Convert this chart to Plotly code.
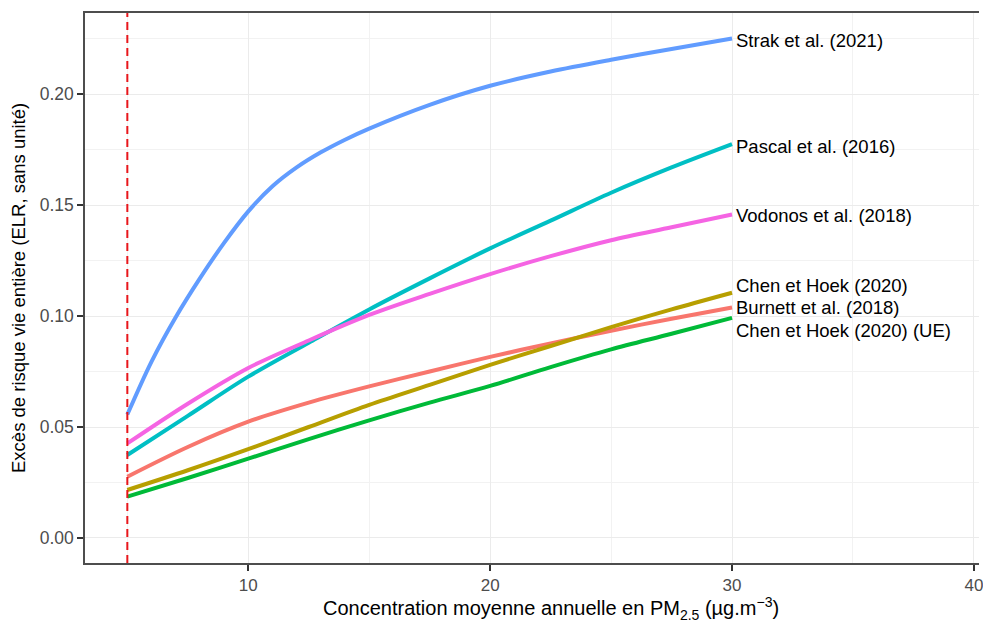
import plotly.graph_objects as go

# ---- data ----
studies = ["Burnett et al. (2018)", "Chen et Hoek (2020)", "Chen et Hoek (2020) (UE)",
           "Pascal et al. (2016)", "Strak et al. (2021)", "Vodonos et al. (2018)"]
colors = ["#F8766D", "#B79F00", "#00BA38", "#00BFC4", "#619CFF", "#F564E3"]

x_fine = [5, 6, 7, 8, 9, 10, 11, 12, 13, 14, 15, 17.5, 20, 22.5, 25, 27.5, 30]
x_coarse = [5, 7.5, 10, 12.5, 15, 17.5, 20, 22.5, 25, 27.5, 30]

strak = [0.0556, 0.0795, 0.0995, 0.1170, 0.1330, 0.1472, 0.1585, 0.1670, 0.1738, 0.1795,
         0.1845, 0.1952, 0.2038, 0.2102, 0.2155, 0.2204, 0.2251]
pascal = [0.0374, 0.055, 0.0727, 0.088, 0.103, 0.117, 0.1305, 0.143, 0.1556, 0.167, 0.1775]
vodonos = [0.0426, 0.0605, 0.0766, 0.089, 0.1005, 0.110, 0.1189, 0.127, 0.1342, 0.140, 0.1458]
burnett = [0.0276, 0.0410, 0.0524, 0.061, 0.0683, 0.075, 0.0816, 0.0877, 0.0934, 0.0988, 0.1039]
chen = [0.0216, 0.0305, 0.0400, 0.0500, 0.0600, 0.0690, 0.0780, 0.0865, 0.0950, 0.1030, 0.1105]
chen_ue = [0.0186, 0.0270, 0.0357, 0.0445, 0.0530, 0.0610, 0.0685, 0.0770, 0.0850, 0.0920, 0.0992]

series = {
    "Burnett et al. (2018)": (x_coarse, burnett),
    "Chen et Hoek (2020)": (x_coarse, chen),
    "Chen et Hoek (2020) (UE)": (x_coarse, chen_ue),
    "Pascal et al. (2016)": (x_coarse, pascal),
    "Strak et al. (2021)": (x_fine, strak),
    "Vodonos et al. (2018)": (x_coarse, vodonos),
}
# label heights (repelled) in data units
label_y = [0.104, 0.114, 0.0937, 0.1766, 0.2243, 0.1455]

who_guideline = 5
x_ticks = [10, 20, 30, 40]
y_ticks = [0.00, 0.05, 0.10, 0.15, 0.20]
x_range = [3.25, 40.21]
x_full = [3.25, 41.75]
y_range = [-0.0113, 0.2366]

FONT = "Liberation Sans, Arial, sans-serif"

fig = go.Figure()
for name, col in zip(studies, colors):
    xs, ys = series[name]
    fig.add_trace(go.Scatter(x=xs, y=ys, mode="lines", name=name,
                             line=dict(color=col, width=4, shape="spline", smoothing=0.9),
                             showlegend=False))

for name, col, ly in zip(studies, colors, label_y):
    xs, ys = series[name]
    fig.add_annotation(x=xs[-1], y=ly, xref="x", yref="y", text=name, showarrow=False,
                       xanchor="left", yanchor="middle", xshift=2,
                       font=dict(family=FONT, size=18.5, color="#000000"))

fig.add_shape(type="line", xref="x", yref="paper", x0=who_guideline, x1=who_guideline,
              y0=0, y1=1, line=dict(color="#E8161B", width=2, dash="8px,5px"))

# axis titles
fig.add_annotation(x=sum(x_full) / 2, y=-0.082, xref="x", yref="paper",
                   text="Concentration moyenne annuelle en PM<sub>2.5</sub> (µg.m<sup>−3</sup>)",
                   showarrow=False, xanchor="center", yanchor="middle",
                   font=dict(family=FONT, size=20, color="#000000"))
fig.add_annotation(x=0, y=sum(y_range) / 2, xref="paper", yref="y", xshift=-67,
                   text="Excès de risque vie entière (ELR, sans unité)", textangle=-90,
                   showarrow=False, xanchor="center", yanchor="middle",
                   font=dict(family=FONT, size=18.5, color="#000000"))

fig.update_layout(
    width=983, height=627,
    margin=dict(l=85, r=0, t=13, b=64),
    paper_bgcolor="white", plot_bgcolor="white",
    font=dict(family=FONT),
    xaxis=dict(range=x_range, tickvals=x_ticks, ticktext=[str(v) for v in x_ticks],
               showgrid=True, gridcolor="#EBEBEB", gridwidth=1.2,
               minor=dict(tickvals=[5, 15, 25, 35], showgrid=True, gridcolor="#F2F2F2", gridwidth=1),
               showline=True, linecolor="#4D4D4D", linewidth=1.5, mirror=True,
               ticks="outside", ticklen=6, tickcolor="#333333", tickwidth=1.5,
               ticklabeloverflow="allow",
               tickfont=dict(family=FONT, size=17, color="#4D4D4D"), zeroline=False),
    yaxis=dict(range=y_range, tickvals=y_ticks, ticktext=[f"{v:.2f}" for v in y_ticks],
               showgrid=True, gridcolor="#EBEBEB", gridwidth=1.2,
               minor=dict(tickvals=[0.025, 0.075, 0.125, 0.175, 0.225], showgrid=True,
                          gridcolor="#F2F2F2", gridwidth=1),
               showline=True, linecolor="#4D4D4D", linewidth=1.5,
               ticks="outside", ticklen=6, tickcolor="#333333", tickwidth=1.5,
               tickfont=dict(family=FONT, size=17.5, color="#4D4D4D"), zeroline=False),
)

fig.write_html("out.html")
